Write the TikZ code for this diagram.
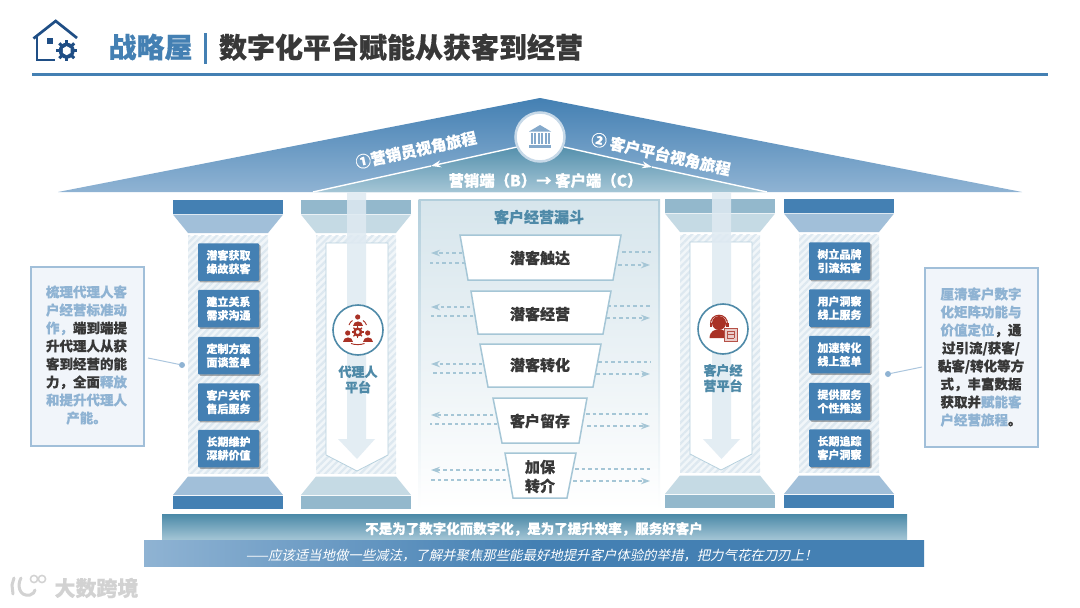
\documentclass[tikz,border=0pt]{standalone}
\usepackage{fontspec}
\setmainfont{Noto Sans CJK SC}[BoldFeatures={FakeBold=0.45}]
\newfontfamily\slantcjk[FakeSlant=0.22]{Noto Sans CJK SC}
\usetikzlibrary{arrows.meta,shadows,patterns.meta,calc}
\definecolor{mainblue}{HTML}{4480B3}
\definecolor{lightblue}{HTML}{A1BFD9}
\definecolor{softblue}{HTML}{8FB3D3}
\definecolor{tealcap}{HTML}{93B8CC}
\definecolor{tealtrap}{HTML}{C5DAE4}
\definecolor{tealtext}{HTML}{4F8AA8}
\definecolor{tealdeep}{HTML}{4C8AA8}
\definecolor{tealline}{HTML}{A5C6D6}
\definecolor{darktext}{HTML}{383838}
\definecolor{navyicon}{HTML}{1F4E85}
\definecolor{redicon}{HTML}{A93226}
\definecolor{arrowfill}{HTML}{DFEAF2}
\definecolor{stripe}{HTML}{DDE8F0}
\definecolor{stripebg}{HTML}{F1F6F9}
\definecolor{panelfill}{HTML}{F1F5FA}
\definecolor{watermark}{HTML}{D2D2D2}
\newcommand{\fsz}[2]{\fontsize{#1}{#2}\selectfont}
\newcommand{\lb}[1]{\textcolor{softblue}{#1}}
\newcommand{\PillarShape}[2]{%
  \fill[#1] (0,0) rectangle (110,14);
  \fill[#2] (0,14.6) -- (110,14.6) -- (95,33) -- (15,33) -- cycle;
  \fill[stripebg] (15,35.5) rectangle (95,273.5);
  \fill[pattern={Lines[angle=45,distance=5pt,line width=2.2pt]},pattern color=stripe] (15,35.5) rectangle (95,273.5);
  \fill[#2] (15,276.5) -- (95,276.5) -- (110,295) -- (0,295) -- cycle;
  \fill[#1] (0,295.6) rectangle (110,309);
}
\newcommand{\PlatformShape}{%
  \draw[draw=tealline!80,fill=white,line width=.8] (25,43) -- (87,43) -- (87,255) -- (56,271) -- (25,255) -- cycle;
}
\tikzset{
  bluebox/.style={fill=mainblue,text=white,font=\fsz{11}{13.5}\bfseries,align=center,inner sep=0,rounded corners=1,
    minimum width=61,minimum height=37.5,
    drop shadow={shadow xshift=1.5pt,shadow yshift=-1.5pt,opacity=.45,fill=black!70}},
  sidetext/.style={font=\fsz{13.5}{18}\bfseries,text=darktext,align=center,inner sep=0},
  sidepanel/.style={draw=lightblue,fill=panelfill,line width=1.4},
  funnelshape/.style={draw=tealline,fill=white,line width=1.5},
  funneltext/.style={font=\fsz{15}{19}\bfseries,text=darktext,align=center,inner sep=0},
  flowline/.style={draw=tealline,line width=1.1,dash pattern=on 3.5pt off 3pt},
  flowtip/.style={-{Stealth[length=9pt,width=6.5pt,fill=tealline]}},
  platformtext/.style={font=\fsz{13}{15.5}\bfseries,text=tealtext,align=center,inner sep=0},
  badge/.style={circle,draw=tealtext,fill=white,line width=1.6,minimum size=50,inner sep=0},
  dotend/.style={circle,fill=softblue,minimum size=6,inner sep=0},
  leadline/.style={draw=softblue!75,line width=1},
  rooftext/.style={font=\fsz{15.4}{18}\bfseries,text=white,inner sep=0},
}
\begin{document}
\begin{tikzpicture}[x=1pt,y=-1pt]
\useasboundingbox (0,0) rectangle (1080,608);
\fill[white] (0,0) rectangle (1080,608);

% header icon
\begin{scope}[navyicon,line width=2.7,line join=miter]
  \draw (33.5,38.5) -- (55.7,21) -- (77,38);
  \draw (37,34.5) -- (37,60) -- (55,60);
  \fill (46.7,38.3) rectangle (52.5,43.6);
  \foreach \a in {0,45,...,315}
    \draw[line width=3] ($(66.7,50.7)+(\a:6)$) -- ($(66.7,50.7)+(\a:10.5)$);
  \fill (66.7,50.7) circle (8);
  \fill[white] (66.7,46.2) -- (70.6,48.45) -- (70.6,52.95) -- (66.7,55.2) -- (62.8,52.95) -- (62.8,48.45) -- cycle;
\end{scope}

% title
\node[font=\fsz{28}{30}\bfseries,text=mainblue,inner sep=0] (titleA) at (150.5,47) {战略屋};
\fill[mainblue] (204,33) rectangle (207,64);
\node[font=\fsz{28}{30}\bfseries,text=darktext,inner sep=0] (titleB) at (401,47) {数字化平台赋能从获客到经营};
\fill[mainblue] (32,72.7) rectangle (1048,75.5);

% roof
\shade[top color=mainblue,middle color=mainblue!90!softblue,bottom color=softblue] (540,98) -- (1022,192) -- (58,192) -- cycle;
\shade[top color=tealdeep,bottom color=tealline] (540,142) -- (767,192) -- (313,192) -- cycle;
\coordinate (innerL) at (313,192);
\coordinate (innerR) at (767,192);
\coordinate (bankL) at (517,147);
\coordinate (bankR) at (564,147);
\coordinate (midL) at (431,166);
\coordinate (midR) at (652,167);

% pillars
\begin{scope}[shift={(173,200)}]\PillarShape{mainblue}{lightblue}\end{scope}
\begin{scope}[shift={(301,200)}]\PillarShape{tealcap}{tealtrap}\PlatformShape\end{scope}
\begin{scope}[shift={(665,199)}]\PillarShape{tealcap}{tealtrap}\PlatformShape\end{scope}
\begin{scope}[shift={(784,199)}]\PillarShape{mainblue}{lightblue}\end{scope}

% down arrows
\fill[arrowfill,opacity=.85] (347,192.5) -- (366,192.5) -- (366,439) -- (375,439) -- (357,459) -- (338,439) -- (347,439) -- cycle;
\fill[arrowfill,opacity=.85] (712,192.5) -- (731,192.5) -- (731,439) -- (740,439) -- (721.5,459) -- (703,439) -- (712,439) -- cycle;

% roof journey arrows and badge
\draw[white,line width=1.4,-{Stealth[length=10pt,width=7pt]}] (bankL) -- (midL);
\draw[white,line width=1.4] (midL) -- (innerL);
\draw[white,line width=1.4,-{Stealth[length=10pt,width=7pt]}] (bankR) -- (midR);
\draw[white,line width=1.4] (midR) -- (innerR);
\node[circle,fill=white,draw=lightblue!60,line width=2.5,minimum size=49,inner sep=0] (bank) at (540,137) {};
\begin{scope}[softblue!90!navyicon]
  \fill (540,125) -- (551,131.5) -- (529,131.5) -- cycle;
  \foreach \x in {531.5,535,538.5,542,545.5,549}
    \fill (\x-1,133) rectangle (\x+1,144);
  \fill (529,145) rectangle (551,147.5);
\end{scope}
\node[rooftext,rotate=12] (journeyA) at (416,150) {①营销员视角旅程};
\node[rooftext,rotate=-12.6] (journeyB) at (661,154) {② 客户平台视角旅程};
\node[rooftext] (bctext) at (545.5,180.5) {营销端（B）→ 客户端（C）};

% centre funnel panel
\shade[top color=tealtrap!70!white,bottom color=white] (419,199) rectangle (659,510);
\shade[top color=tealline!85,bottom color=white] (418.5,199) rectangle (420.5,510);
\shade[top color=tealline!85,bottom color=white] (658,199) rectangle (660,510);
\fill[tealline!85] (418.5,198.5) rectangle (660,200.5);
\node[font=\fsz{15}{18}\bfseries,text=tealtext,inner sep=0] (funneltitle) at (539,217) {客户经营漏斗};

\foreach \i/\ya/\xa/\yb/\xb/\yc/\xc/\yd/\xd in {1/253/462/263/465/252/622/265/618,2/307/470/316/473/306/607/318/606,3/364/482/373/482/362/598/374/596,4/415/493/424/497/414/586/426/587,5/470/505/480/506/469/575/481/573}{
  \coordinate (lAs\i) at (\xa,\ya); \coordinate (lAe\i) at (431,\ya);
  \coordinate (lBs\i) at (\xb,\yb); \coordinate (lBe\i) at (430,\yb);
  \coordinate (rAs\i) at (\xc,\yc); \coordinate (rAe\i) at (651,\yc);
  \coordinate (rBs\i) at (\xd,\yd); \coordinate (rBe\i) at (650,\yd);
  \draw[flowline,flowtip] (lAs\i) -- (lAe\i);
  \draw[flowline] (lBs\i) -- (lBe\i);
  \draw[flowline] (rAs\i) -- (rAe\i);
  \draw[flowline,flowtip] (rBs\i) -- (rBe\i);
}
\draw[funnelshape] (460,235) -- (621,235) -- (613,280) -- (468,280) -- cycle;
\draw[funnelshape] (471,291) -- (611,291) -- (603,334) -- (478,334) -- cycle;
\draw[funnelshape] (480,344) -- (601,344) -- (593,387) -- (488,387) -- cycle;
\draw[funnelshape] (493,398) -- (587,398) -- (579,443) -- (502,443) -- cycle;
\draw[funnelshape] (505,453) -- (576,453) -- (567,498) -- (513,498) -- cycle;
\node[funneltext] (f1) at (540,258) {潜客触达};
\node[funneltext] (f2) at (540,314) {潜客经营};
\node[funneltext] (f3) at (540,365) {潜客转化};
\node[funneltext] (f4) at (540,421) {客户留存};
\node[funneltext] (f5) at (540,476.5) {加保\\转介};

% left column boxes
\node[bluebox] (a1) at (228.5,262) {潜客获取\\缘故获客};
\node[bluebox] (a2) at (228.5,308.5) {建立关系\\需求沟通};
\node[bluebox] (a3) at (228.5,355.5) {定制方案\\面谈签单};
\node[bluebox] (a4) at (228.5,402) {客户关怀\\售后服务};
\node[bluebox] (a5) at (228.5,448.5) {长期维护\\深耕价值};

% right column boxes
\node[bluebox] (b1) at (839.5,261) {树立品牌\\引流拓客};
\node[bluebox] (b2) at (839.5,308) {用户洞察\\线上服务};
\node[bluebox] (b3) at (839.5,354.5) {加速转化\\线上签单};
\node[bluebox] (b4) at (839.5,401.5) {提供服务\\个性推送};
\node[bluebox] (b5) at (839.5,448) {长期追踪\\客户洞察};

% side panels
\draw[sidepanel] (31,267) rectangle (144,446);
\node[sidetext] (ltext) at (86.5,355) {\lb{梳理代理人客}\\\lb{户经营标准动}\\\lb{作，}端到端提\\升代理人从获\\客到经营的能\\力，全面\lb{释放}\\\lb{和提升代理人}\\\lb{产能。}};
\draw[sidepanel] (925,268) rectangle (1038,447);
\node[sidetext] (rtext) at (981,357) {\lb{厘清客户数字}\\\lb{化矩阵功能与}\\\lb{价值定位}，通\\过引流/获客/\\黏客/转化等方\\式，丰富数据\\获取并\lb{赋能客}\\\lb{户经营旅程}。};
\node[dotend] (ldot) at (182,365) {};
\node[dotend] (rdot) at (888,374) {};
\coordinate (lstart) at (148,358);
\coordinate (rstart) at (922,367);
\draw[leadline] (lstart) -- (ldot);
\draw[leadline] (rstart) -- (rdot);

% agent platform badge
\node[badge] (agent) at (358,330) {};
\begin{scope}[redicon]
  \foreach \px/\py in {357.7/317,347.7/333,367.7/333}{
    \begin{scope}[shift={(\px,\py)}]
      \fill (0,0) circle (2.6);
      \fill (-5,8.5) .. controls (-5,2.8) and (5,2.8) .. (5,8.5) -- cycle;
    \end{scope}
  }
  \fill[even odd rule] (357.7,332) circle (4.6) (357.7,332) circle (2);
  \foreach \a in {0,45,...,315}
    \draw[line width=1.3] ($(357.7,332)+(\a:4)$) -- ($(357.7,332)+(\a:6)$);
  \draw[line width=.9] (349,325) .. controls (350,322.5) and (351,321.5) .. (352.5,320.5);
  \draw[line width=.9] (366.5,325) .. controls (365.5,322.5) and (364.5,321.5) .. (363,320.5);
  \draw[line width=.9] (351,343.5) .. controls (355,345) and (360.5,345) .. (364.5,343.5);
\end{scope}
\node[platformtext] (agentlabel) at (358,379.5) {代理人\\平台};

% customer platform badge
\node[badge] (client) at (723,329) {};
\begin{scope}[redicon]
  \fill (719,323) circle (7);
  \fill (709.5,338) .. controls (710,330.5) and (715,329.5) .. (719,329.5) .. controls (723,329.5) and (727,330.5) .. (728,338) -- cycle;
  \draw[line width=1.1] (710.5,325) .. controls (709.5,312) and (728.5,312) .. (727.5,325);
  \fill (709.5,322.5) rectangle (711.8,327);
  \fill (726.2,322.5) rectangle (728.5,327);
  \draw[fill=redicon!25,draw=redicon!85,line width=.9] (724,328) rectangle (737,341);
  \draw[line width=.8,draw=redicon!85] (727,331) -- (734,331) (727,334.5) -- (734,334.5) (727,338) -- (734,338) (727,331) -- (727,338) (734,331) -- (734,338);
\end{scope}
\node[platformtext] (clientlabel) at (723,378) {客户经\\营平台};

% base bars
\shade[top color=tealdeep,bottom color=tealline] (162,514.5) rectangle (907,540);
\node[font=\fsz{13.5}{16}\bfseries,text=white,inner sep=0] (basetop) at (534,529) {不是为了数字化而数字化，是为了提升效率，服务好客户};
\shade[left color=softblue,right color=mainblue,middle color=mainblue] (144,540) rectangle (924,566);
\node[font=\slantcjk\fsz{13.4}{16},text=white,inner sep=0] (basebot) at (531.5,555.5) {——应该适当地做一些减法，了解并聚焦那些能最好地提升客户体验的举措，把力气花在刀刃上！};

% watermark
\begin{scope}[watermark,line width=3,line cap=round]
  \draw (14,578) -- (12,585) -- (13,594);
  \draw (21,578) .. controls (17,585) and (19,597) .. (30,595) .. controls (33,594) and (35,592) .. (35,590);
  \draw[line width=1.5] (34,579) circle (3.6);
  \draw[line width=1.5] (42,579) circle (3.6);
\end{scope}
\node[font=\fsz{21}{24}\bfseries,text=watermark,inner sep=0] (mark) at (96.5,588) {大数跨境};
\end{tikzpicture}
\end{document}
